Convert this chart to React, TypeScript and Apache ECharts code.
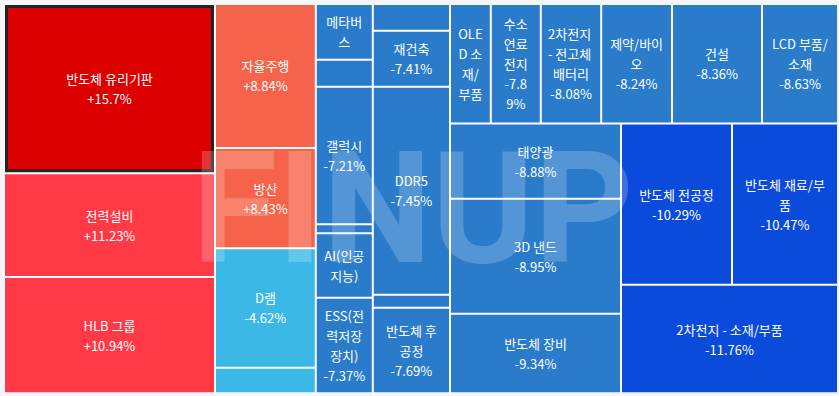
import React, { useEffect, useRef } from 'react';
import * as echarts from 'echarts';

// Themes, in the order of their daily change (largest gain first)
const names = [
  '반도체 유리기판', '전력설비', 'HLB 그룹', '자율주행', '방산', 'D램', '기타 테마 1',
  '메타버스', '기타 테마 2', '갤럭시', '기타 테마 3', 'AI(인공지능)', 'ESS(전력저장장치)',
  '기타 테마 4', '재건축', 'DDR5', '기타 테마 5', '반도체 후공정',
  'OLED 소재/부품', '수소연료전지', '2차전지 - 전고체 배터리', '제약/바이오', '건설', 'LCD 부품/소재',
  '태양광', '3D 낸드', '반도체 장비', '반도체 전공정', '반도체 재료/부품', '2차전지 - 소재/부품',
];

// Relative size of each theme (tile area)
const sizes = [
  35700, 21900, 24540, 14515, 10100, 12046, 2580,
  3181, 1539, 7832, 513, 3677, 5449,
  2061, 4331, 16058, 996, 6608,
  4876, 5975, 7218, 8461, 10755, 9082,
  12859, 19665, 13612, 17904, 17098, 23545,
];

// Daily change, %
const changes = [
  15.7, 11.23, 10.94, 8.84, 8.43, -4.62, -4.9,
  -6.5, -7.0, -7.21, -7.25, -7.3, -7.37,
  -7.39, -7.41, -7.45, -7.6, -7.69,
  -7.8, -7.89, -8.08, -8.24, -8.36, -8.63,
  -8.88, -8.95, -9.34, -10.29, -10.47, -11.76,
];

// Themes whose tiles are too small to carry a label
const unlabeled = ['기타 테마 1', '기타 테마 2', '기타 테마 3', '기타 테마 4', '기타 테마 5'];
// Themes whose tile only has room for the name
const nameOnly = ['OLED 소재/부품'];
// Narrow tiles that wrap more tightly
const tightWrap = ['수소연료전지'];
const highlighted = '반도체 유리기판';

// Colour bins by change
const binMins = [15, 10, 5, -5, -10, -Infinity];
const binColors = ['#dd0000', '#ff3a46', '#f5644a', '#3cb8e6', '#2a7ccb', '#0b4bdb'];

function colorFor(v: number): string {
  for (let i = 0; i < binMins.length; i++) if (v >= binMins[i]) return binColors[i];
  return binColors[binColors.length - 1];
}
function fmtPct(v: number): string {
  return (v > 0 ? '+' : '') + v + '%';
}

export default function App() {
  const ref = useRef<HTMLDivElement>(null);
  useEffect(() => {
    document.body.style.margin = '0';
    const chart = echarts.init(ref.current!, null, { renderer: 'svg' });
    const data = names.map((n, i) => {
      const label: any = {
        show: !unlabeled.includes(n),
        formatter: nameOnly.includes(n) ? n : n + '\n' + fmtPct(changes[i]),
      };
      if (tightWrap.includes(n)) label.padding = [4, 10];
      const item: any = {
        name: n,
        value: sizes[i],
        itemStyle: { color: colorFor(changes[i]) },
        label,
      };
      if (n === highlighted) {
        item.itemStyle.borderWidth = 3;
        item.itemStyle.borderColor = '#222222';
      }
      return item;
    });
    chart.setOption({
      animation: false,
      backgroundColor: '#f5f6fa',
      graphic: [
        {
          type: 'text',
          z: 100,
          silent: true,
          x: 413,
          y: 209,
          style: {
            text: 'FINUP',
            fontSize: 155,
            fontWeight: 'bold',
            fontFamily: 'Roboto, sans-serif',
            fill: 'rgba(255,255,255,0.2)',
            textAlign: 'center',
            textVerticalAlign: 'middle',
          },
        },
      ],
      series: [
        {
          type: 'treemap',
          left: 5,
          top: 5,
          width: 832,
          height: 387.3,
          roam: false,
          nodeClick: false,
          sort: false,
          breadcrumb: { show: false },
          emphasis: { disabled: true },
          label: {
            show: true,
            position: 'inside',
            color: '#ffffff',
            fontSize: 13,
            lineHeight: 20,
            fontFamily: "'Noto Sans CJK KR', 'Noto Sans', sans-serif",
            overflow: 'breakAll',
            padding: 4,
          },
          upperLabel: { show: false },
          levels: [
            { itemStyle: { borderWidth: 0, gapWidth: 2, borderColor: '#ffffff' } },
            { itemStyle: { borderWidth: 0, gapWidth: 0 } },
          ],
          data,
        },
      ],
    });
    return () => chart.dispose();
  }, []);
  return (
    <div
      ref={ref}
      style={{ position: 'absolute', left: 0, top: 0, width: 839, height: 396, background: '#f5f6fa' }}
    />
  );
}
